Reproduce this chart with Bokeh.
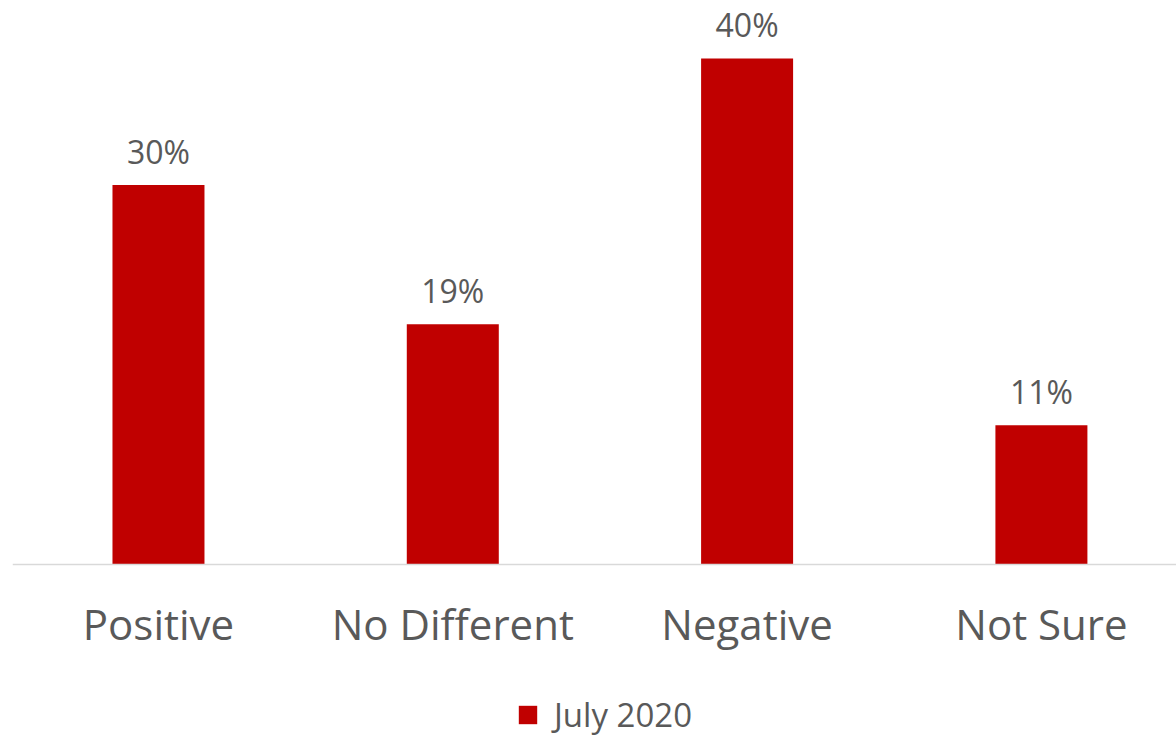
from bokeh.plotting import figure
from bokeh.models import Range1d, Legend, LegendItem, ColumnDataSource, Span
from bokeh.core.properties import value
from bokeh.embed import file_html
from bokeh.resources import INLINE

categories = ["Positive", "No Different", "Negative", "Not Sure"]
values = [30, 19, 40, 11]
series_name = "July 2020"

xs = list(range(len(categories)))
labels = [f"{v}%" for v in values]
src = ColumnDataSource(dict(x=xs, top=values, label=labels, cat=categories, base=[0] * len(xs)))

FONT = "Open Sans"
TEXT = "#595959"
RED = "#C00000"
PX_PER_UNIT = 12.65

p = figure(frame_width=1164, frame_height=737, output_backend="svg", toolbar_location=None,
           x_range=Range1d(-0.496, 3.459),
           y_range=Range1d(-173 / PX_PER_UNIT, 564 / PX_PER_UNIT),
           min_border_left=12, min_border_right=0, min_border_top=0, min_border_bottom=0)
p.outline_line_color = None
p.xgrid.visible = False
p.ygrid.visible = False
p.xaxis.visible = False
p.yaxis.visible = False
p.background_fill_color = "white"
p.border_fill_color = "white"

p.add_layout(Span(location=0, dimension="width", line_color="#D9D9D9", line_width=1.5))

bars = p.vbar(x="x", top="top", width=0.3126, source=src, fill_color=RED, line_color=None)
p.text(x="x", y="top", text="label", source=src, text_align="center", text_baseline="alphabetic",
       y_offset=-34, text_font=value(FONT), text_font_size="32px", text_color=TEXT)
p.text(x="x", y="base", text="cat", source=src, text_align="center", text_baseline="alphabetic",
       y_offset=59, text_font=value(FONT), text_font_size="42px", text_color=TEXT)

legend = Legend(items=[LegendItem(label=series_name, renderers=[bars])],
                orientation="horizontal", location=(504, 0),
                label_text_font=FONT, label_text_font_size="33px", label_text_color=TEXT,
                glyph_width=23, glyph_height=23, label_standoff=15,
                border_line_color=None, background_fill_alpha=0, margin=0, padding=0)
p.add_layout(legend, "center")

open("out.html", "w").write(file_html(p, INLINE))
